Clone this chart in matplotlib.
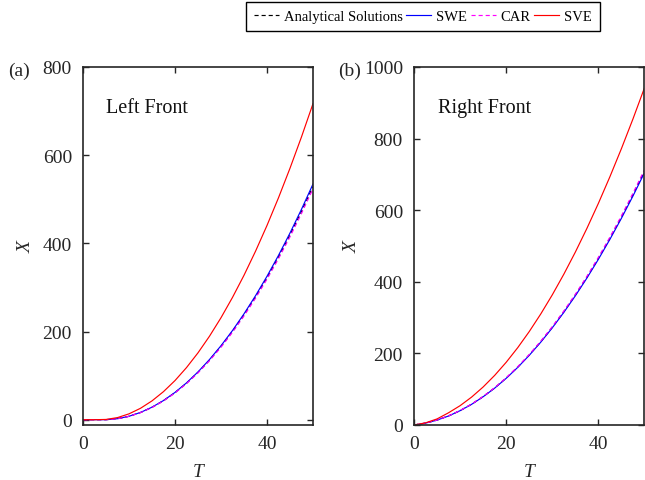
import matplotlib
matplotlib.use("Agg")
import matplotlib.pyplot as plt

plt.rcParams['font.family'] = ['Liberation Serif', 'DejaVu Serif']

# ---- data ----
T = [0, 2.5, 5, 7.5, 10, 12.5, 15, 17.5, 20, 22.5, 25, 27.5, 30, 32.5, 35,
     37.5, 40, 42.5, 45, 47.5, 50]

left_analytical = [0, 0, 0.06, 2.3, 7.7, 16.3, 28.1, 43.1, 61.3, 82.7, 107.3, 135.1,
                   166.1, 200.3, 237.7, 278.3, 322.0, 369.0, 419.2, 472.5, 529.2]
left_swe = [0, 0, 0.06, 2.3, 7.8, 16.5, 28.4, 43.5, 61.9, 83.5, 108.4, 136.5,
            167.8, 202.3, 240.1, 281.1, 325.3, 372.7, 423.4, 477.3, 534.5]
left_car = [0, 0, 0.06, 2.2, 7.6, 16.1, 27.8, 42.6, 60.6, 81.8, 106.2, 133.8,
            164.4, 198.3, 235.3, 275.5, 318.8, 365.2, 414.9, 467.8, 523.8]
left_sve = [0, 0, 0.6, 4.8, 13.3, 25.9, 42.7, 63.7, 88.8, 118.2, 151.7, 189.4,
            231.3, 277.4, 327.6, 382.0, 440.6, 503.4, 570.4, 641.5, 716.9]

right_analytical = [0, 5.2, 13.8, 25.4, 40.2, 58.1, 79.4, 103.6, 131.2, 161.9, 195.8,
                    232.8, 273.1, 316.5, 363.1, 412.8, 465.7, 521.8, 581.1, 643.5, 709.2]
right_swe = [0, 5.2, 13.7, 25.2, 40.0, 57.8, 78.9, 103.0, 130.4, 160.9, 194.6,
             231.4, 271.5, 314.6, 360.9, 410.3, 462.9, 518.7, 577.6, 639.7, 705.0]
right_car = [0, 5.3, 13.9, 25.5, 40.5, 58.5, 79.8, 104.2, 132.0, 162.8, 196.9,
             234.2, 274.8, 318.4, 365.2, 415.2, 468.5, 524.9, 584.5, 647.4, 713.5]
right_sve = [0, 6.0, 17.0, 34.2, 54.0, 78.0, 106.2, 138.6, 175.2, 216.0, 261.0,
             310.2, 363.6, 421.2, 483.0, 549.0, 619.2, 693.6, 772.2, 855.0, 942.0]

labels = ['Analytical Solutions', 'SWE', 'CAR', 'SVE']
panel_titles = ['Left Front', 'Right Front']
panel_tags = ['(a)', '(b)']
xticks = [0, 20, 40]
left_yticks = [0, 200, 400, 600, 800]
right_yticks = [0, 200, 400, 600, 800, 1000]

W, H = 645, 481
fig = plt.figure(figsize=(W / 100, H / 100), dpi=100)

spine_col = '#262626'
lw = 0.85

def setup(ax, ylim, yticks):
    ax.set_xlim(0, 50)
    ax.set_ylim(*ylim)
    ax.set_xticks(xticks)
    ax.set_yticks(yticks)
    ax.tick_params(direction='in', top=True, right=True, length=4, width=1.0,
                   color=spine_col, labelsize=14, labelcolor='#262626')
    ax.tick_params(axis='y', pad=8)
    ax.tick_params(axis='x', pad=7)
    for s in ax.spines.values():
        s.set_linewidth(1.2)
        s.set_color(spine_col)

def draw(ax, ana, swe, car, sve):
    l1, = ax.plot(T, ana, color='black', lw=lw, ls=(0, (3.5, 2.5)))
    l2, = ax.plot(T, swe, color='#0000ff', lw=lw)
    l3, = ax.plot(T, car, color='#ff00ff', lw=lw, ls=(0, (3.5, 2.5)))
    l4, = ax.plot(T, sve, color='#ff0000', lw=lw)
    return [l1, l2, l3, l4]

axL = fig.add_axes([83 / W, (H - 426) / H, 230 / W, 358 / H])
handles = draw(axL, left_analytical, left_swe, left_car, left_sve)
setup(axL, (-12, 800), left_yticks)

axR = fig.add_axes([414 / W, (H - 426) / H, 230.5 / W, 358 / H])
draw(axR, right_analytical, right_swe, right_car, right_sve)
setup(axR, (0, 1000), right_yticks)

for ax, title, lx in [(axL, panel_titles[0], 0.099), (axR, panel_titles[1], 0.103)]:
    ax.text(lx, 0.875, title, transform=ax.transAxes, fontsize=14.5,
            ha='left', va='baseline', color='#111111')
    ax.set_xlabel('T', fontsize=14, style='italic', color='#262626')
    ax.set_ylabel('X', fontsize=14, style='italic', color='#262626')
    ax.xaxis.set_label_coords(0.5, -0.105)

axL.yaxis.set_label_coords(-0.209, 0.5)
axR.yaxis.set_label_coords(-0.23, 0.5)

fig.text(8 / W, 1 - 76 / H, panel_tags[0], fontsize=14, ha='left', va='baseline', color='#262626')
fig.text(338 / W, 1 - 76 / H, panel_tags[1], fontsize=14, ha='left', va='baseline', color='#262626')

leg = fig.legend(handles, labels, ncol=4, loc='upper center',
                 bbox_to_anchor=(423 / W, 1 - 3 / H), fontsize=10.5,
                 frameon=True, fancybox=False, edgecolor='black', framealpha=1,
                 handlelength=1.7, handletextpad=0.35, columnspacing=0.25,
                 borderpad=0.55, borderaxespad=0)
leg.get_frame().set_linewidth(1.0)

fig.savefig('out.png', dpi=100)
